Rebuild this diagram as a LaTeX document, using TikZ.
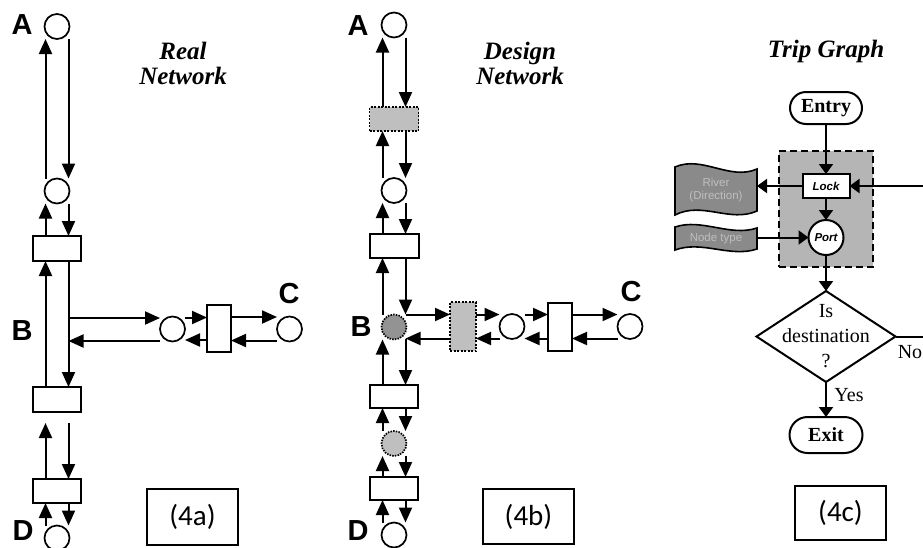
\documentclass[tikz,border=0pt]{standalone}
\usepackage{fontspec}
\setmainfont{Liberation Serif}
\setsansfont{Liberation Sans}
\newfontfamily\calib{Carlito}
\usetikzlibrary{arrows.meta,shapes.geometric,shapes.misc,calc}
\newcommand\vpairx[3]{%
  \draw[arr] ([xshift=-#3]#2.north) -- ([xshift=-#3]#1.south);
  \draw[arr] ([xshift=#3]#1.south) -- ([xshift=#3]#2.north);}
\newcommand\hpairx[3]{%
  \path ($(#1.east)+(0,-#3)$) coordinate (tmpa);
  \draw[arr] (tmpa) -- (tmpa -| #2.west);
  \path ($(#2.west)+(0,#3)$) coordinate (tmpb);
  \draw[arr] (tmpb) -- (tmpb -| #1.east);}
\begin{document}
\begin{tikzpicture}[x=1pt,y=-1pt,
  every node/.style={inner sep=0pt,outer sep=0pt},
  ln/.style={line width=2pt},
  arr/.style={line width=2pt,-{Triangle[length=15pt,width=13pt]}},
  sarr/.style={line width=2pt,-{Triangle[length=10pt,width=14pt]}},
  circ/.style={circle,draw,line width=1.7pt,minimum size=25pt,fill=white},
  wbox/.style={rectangle,draw,line width=2pt,fill=white},
  gbox/.style={rectangle,draw,line width=1.6pt,dash pattern=on 2pt off 1.5pt,fill=gray!50},
  letter/.style={font=\sffamily\bfseries\fontsize{29}{29}\selectfont},
  ttl/.style={font=\bfseries\itshape\fontsize{25}{25}\selectfont,align=center},
  lblbox/.style={draw,line width=1.2pt,minimum width=91pt,font=\calib\fontsize{29}{29}\selectfont},
  flag/.style={draw,line width=1.6pt,fill=gray!92},
  flagtxt/.style={font=\sffamily\fontsize{11.5}{13}\selectfont,text=gray!50,align=center,minimum width=82pt}
]
\useasboundingbox (0,0) rectangle (923,547);

% ================= (4a) Real Network =================
\node[circ] (aA) at (57,26.5) {};
\node[circ] (a2) at (57,191) {};
\node[wbox,minimum width=48pt,minimum height=25pt] (ab1) at (57,248.5) {};
\node[wbox,minimum width=48pt,minimum height=25pt] (ab2) at (57,399.5) {};
\node[wbox,minimum width=48pt,minimum height=24pt] (ab3) at (57,491) {};
\node[circ] (aD) at (57,538) {};
\node[circ] (aC1) at (172.5,329) {};
\node[wbox,minimum width=24pt,minimum height=47pt] (abC) at (219,328.5) {};
\node[circ] (aC2) at (289.5,329) {};

\node[letter] (laA) at (22,25) {A};
\node[letter] (laB) at (22,331) {B};
\node[letter] (laC) at (289,294) {C};
\node[letter] (laD) at (23,531) {D};
\node[ttl] (t1) at (183,63) {Real\\Network};

\vpairx{aA}{a2}{11.5pt}
\vpairx{a2}{ab1}{11.5pt}
\vpairx{ab1}{ab2}{11.5pt}
\draw[arr] ([xshift=-11.5pt]ab3.north) -- ++(0,-56);
\draw[arr] ($(ab3.north)+(11.5,-56)$) -- ([xshift=11.5pt]ab3.north);
\vpairx{ab3}{aD}{11.5pt}
\coordinate (aj1) at (68.5,318);
\coordinate (aj2) at (68.5,341);
\draw[arr] (aj1) -- (aj1 -| aC1.west);
\draw[arr] (aj2 -| aC1.west) -- (aj2);
\hpairx{aC1}{abC}{11.5}
\hpairx{abC}{aC2}{11.5}
\node[lblbox,minimum height=56pt] (la) at (192.5,517) {(4a)};

% ================= (4b) Design Network =================
\node[circ] (bA) at (394,25) {};
\node[gbox,minimum width=49pt,minimum height=24pt] (bg1) at (394,119) {};
\node[circ] (b2) at (394,190.5) {};
\node[wbox,minimum width=49pt,minimum height=24pt] (bb1) at (394,246) {};
\node[circ,fill=gray!85,draw=black,dash pattern=on 1.5pt off 1.2pt] (bB) at (394,327) {};
\node[gbox,minimum width=26pt,minimum height=49pt] (bg2) at (463,326.5) {};
\node[circ] (bC1) at (512,326.5) {};
\node[wbox,minimum width=24pt,minimum height=48pt] (bbC) at (560,326.5) {};
\node[circ] (bC2) at (630,326.5) {};
\node[wbox,minimum width=48pt,minimum height=23pt] (bb2) at (394,396.5) {};
\node[circ,fill=gray!50,draw=black,dash pattern=on 1.5pt off 1.2pt] (bL) at (394,443.5) {};
\node[wbox,minimum width=48pt,minimum height=23pt] (bb3) at (394,488.5) {};
\node[circ] (bD) at (394,535) {};

\node[letter] (lbA) at (358,26) {A};
\node[letter] (lbB) at (361,327) {B};
\node[letter] (lbC) at (631,292) {C};
\node[letter] (lbD) at (358,531) {D};
\node[ttl] (t2) at (520,63) {Design\\Network};

\vpairx{bA}{bg1}{11.5pt}
\vpairx{bg1}{b2}{11.5pt}
\vpairx{b2}{bb1}{11.5pt}
\coordinate (bk1) at (405.5,314.5);
\coordinate (bk2) at (405.5,338.5);
\draw[arr] ([xshift=-11.5pt]bB.north) -- ([xshift=-11.5pt]bb1.south);
\draw[arr] ([xshift=11.5pt]bb1.south) -- (bk1);
\draw[arr] (bk1) -- (bk1 -| bg2.west);
\draw[arr] (bk2 -| bg2.west) -- (bk2);
\draw[arr] (bk2) -- ([xshift=11.5pt]bb2.north);
\draw[arr] ([xshift=-11.5pt]bb2.north) -- ([xshift=-11.5pt]bB.south);
\hpairx{bg2}{bC1}{12}
\hpairx{bC1}{bbC}{12}
\hpairx{bbC}{bC2}{12}
\vpairx{bb2}{bL}{11.5pt}
\vpairx{bL}{bb3}{11.5pt}
\vpairx{bb3}{bD}{11.5pt}
\node[lblbox,minimum height=55pt] (lb) at (528.5,516.5) {(4b)};

% ================= (4c) Trip Graph =================
\node[ttl,anchor=base] (t3) at (826,57) {Trip Graph};
\node[rectangle,fill=gray!58,draw,line width=1.8pt,dash pattern=on 7pt off 4pt,
      minimum width=94pt,minimum height=116pt] (grp) at (826,209) {};
\node[rounded rectangle,draw,line width=2pt,fill=white,minimum width=72pt,minimum height=32pt,
      font=\bfseries\fontsize{20}{20}\selectfont] (entry) at (826,108) {Entry};
\node[wbox,minimum width=47pt,minimum height=24pt,
      font=\sffamily\bfseries\itshape\fontsize{11.5}{12}\selectfont] (lock) at (826,186) {Lock};
\node[circle,draw,line width=2pt,fill=white,minimum size=35pt,
      font=\sffamily\bfseries\itshape\fontsize{11.5}{12}\selectfont] (port) at (826,237.5) {Port};
\node[diamond,draw,line width=2pt,minimum width=139pt,minimum height=91pt] (dec) at (826,336.5) {};
\node[align=center,font=\fontsize{20}{25}\selectfont] (dect) at (826,336.5) {Is\\destination\\?};
\node[rounded rectangle,draw,line width=2pt,fill=white,minimum width=73pt,minimum height=36pt,
      font=\bfseries\fontsize{20}{20}\selectfont] (exit) at (826,435) {Exit};

\draw[flag] (675,167) .. controls (702,155) and (730,181) .. (757,169)
   -- (757,211) .. controls (730,223) and (702,201) .. (675,215) -- cycle;
\node[flagtxt] (river) at (716,190) {River\\(Direction)};
\draw[flag] (675,227) .. controls (702,218) and (730,237) .. (757,228)
   -- (757,249) .. controls (730,258) and (702,240) .. (675,250) -- cycle;
\node[flagtxt] (ntype) at (716,238.5) {Node type};

\draw[sarr] (entry) -- (lock);
\draw[sarr] (lock) -- (port);
\draw[sarr] (port) -- (dec.north);
\draw[sarr] (dec.south) -- (exit);
\draw[sarr] (lock.west) -- (lock.west -| river.east);
\draw[sarr] (port.west -| ntype.east) -- (port.west);
\coordinate (rin) at (923,186);
\coordinate (rno) at (923,336.5);
\draw[sarr] (rin) -- (lock.east);
\draw[ln] (dec.east) -- (rno);
\node[font=\fontsize{20}{20}\selectfont] (no) at (910,352) {No};
\node[font=\fontsize{20}{20}\selectfont] (yes) at (849,395) {Yes};
\node[lblbox,minimum height=54pt] (lc) at (840.5,513) {(4c)};
\end{tikzpicture}
\end{document}
